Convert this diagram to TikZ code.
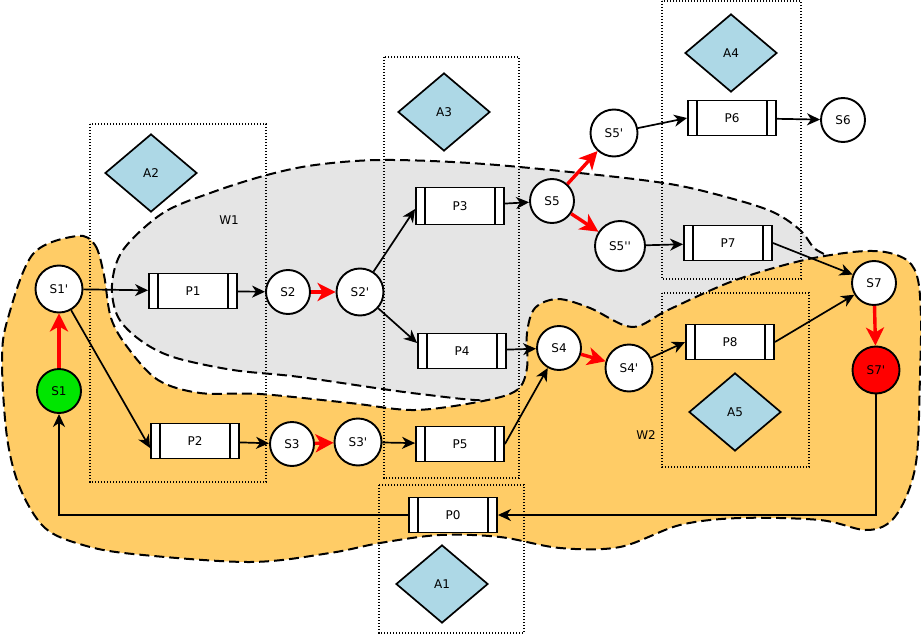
\documentclass[tikz,border=0pt]{standalone}
\usepackage{fontspec}
\setmainfont{DejaVu Sans}[Ligatures=TeXOff]
\usetikzlibrary{shapes.geometric,arrows.meta}
\definecolor{worange}{RGB}{255,204,102}
\definecolor{wgrey}{RGB}{229,229,229}
\definecolor{actblue}{RGB}{173,216,230}
\definecolor{sgreen}{RGB}{0,230,0}
\begin{document}
\begin{tikzpicture}[x=1pt,y=-1pt,
  every node/.style={font=\fontsize{12}{14}\selectfont},
  state/.style={circle,draw,line width=1.9pt,fill=white,minimum size=44pt,inner sep=0pt},
  statep/.style={state,minimum size=47pt},
  statepp/.style={state,minimum size=50pt},
  proc/.style={rectangle,draw,line width=1.9pt,fill=white,minimum width=88pt,minimum height=35pt,inner sep=0pt,
    path picture={\draw[line width=1.8pt]
      ([xshift=9pt]path picture bounding box.north west) -- ([xshift=9pt]path picture bounding box.south west)
      ([xshift=-9pt]path picture bounding box.north east) -- ([xshift=-9pt]path picture bounding box.south east);}},
  act/.style={diamond,draw,line width=1.7pt,fill=actblue,minimum width=92pt,minimum height=78pt,inner sep=0pt},
  dbox/.style={draw,line width=1.4pt,dash pattern=on 1.4pt off 1.6pt},
  blob/.style={line width=2pt,dash pattern=on 10pt off 5pt},
  arr/.style={-{Stealth[length=13pt,width=12pt,inset=4pt]},line width=1.7pt},
  rarr/.style={-{Stealth[length=18pt,width=18pt,inset=5pt]},line width=3.4pt,draw=red},
  lab/.style={inner sep=0pt}
]
\useasboundingbox (0,0) rectangle (921,634);

% W1 grey region
\draw[blob,fill=wgrey] plot[smooth cycle,tension=0.55] coordinates {
 (112,285) (123,250) (163,213) (213,192) (267,175) (315,165) (380,160) (470,163)
 (570,172) (670,184) (737,200) (775,213) (800,230) (813,247) (835,275) (720,340)
 (580,380) (503,400) (420,394) (300,377) (233,370) (173,357) (140,340) (118,317)};

% W2 orange region
\draw[blob,fill=worange] plot[smooth cycle,tension=0.55] coordinates {
 (77,236) (95,245) (104,275) (111,318) (128,348) (158,380) (200,393) (260,394)
 (350,403) (415,410) (483,401) (517,390) (527,368) (527,333) (535,308) (558,299)
 (590,308) (632,327) (668,310) (733,281) (800,261) (853,252) (885,252) (908,261)
 (918,280) (921,320) (920,375) (917,455) (907,495) (890,522) (865,530) (820,520)
 (740,518) (680,525) (620,547) (560,548) (500,537) (440,535) (380,543) (330,553)
 (250,562) (133,554) (83,545) (45,528) (20,488) (7,437) (2,360) (8,318) (33,254)};

\node[lab] (w1) at (229,220) {W1};
\node[lab] (w2) at (646,435) {W2};

% dotted boxes
\draw[dbox] (90,124) rectangle (266,482);
\draw[dbox] (384,57) rectangle (519,478);
\draw[dbox] (662,1) rectangle (801,279);
\draw[dbox] (662,293) rectangle (809,467);
\draw[dbox] (379,485) rectangle (524,633);

% activities
\node[act] (A1) at (442,584) {A1};
\node[act] (A2) at (151,173) {A2};
\node[act] (A3) at (444,112) {A3};
\node[act] (A4) at (731,53) {A4};
\node[act] (A5) at (735,412) {A5};

% states
\node[statep] (S1p) at (59,289) {S1'};
\node[state,fill=sgreen] (S1) at (59,391) {S1};
\node[state] (S2) at (288,292) {S2};
\node[statep] (S2p) at (360,292) {S2'};
\node[state] (S3) at (292,444) {S3};
\node[statep] (S3p) at (358,442) {S3'};
\node[state] (S4) at (559,348) {S4};
\node[statep] (S4p) at (629,368) {S4'};
\node[state] (S5) at (552,201) {S5};
\node[statep] (S5p) at (614,133) {S5'};
\node[statepp] (S5pp) at (620,246) {S5''};
\node[state] (S6) at (843,120) {S6};
\node[state] (S7) at (874,283) {S7};
\node[statep,fill=red] (S7p) at (876,370) {S7'};

% processes
\node[proc] (P0) at (453,515) {P0};
\node[proc] (P1) at (193,291) {P1};
\node[proc] (P2) at (195,441) {P2};
\node[proc,minimum height=37pt] (P3) at (460,206) {P3};
\node[proc] (P4) at (462,351) {P4};
\node[proc] (P5) at (460,444) {P5};
\node[proc] (P6) at (732,118) {P6};
\node[proc] (P7) at (728,243) {P7};
\node[proc] (P8) at (730,342) {P8};

% black connectors
\draw[arr] (S1p) -- (P1);
\draw[arr] (P1) -- (S2);
\draw[arr] (S1p) -- ([yshift=-7pt]P2.west);
\draw[arr] (P2) -- (S3);
\draw[arr] (S2p) -- ([yshift=-3pt]P3.west);
\draw[arr] (S2p) -- ([yshift=8pt]P4.west);
\draw[arr] (P3) -- (S5);
\draw[arr] (P4) -- (S4);
\draw[arr] (S3p) -- (P5);
\draw[arr] (P5.east) -- (S4);
\draw[arr] (S5p) -- (P6.west);
\draw[arr] (P6) -- (S6);
\draw[arr] (S5pp) -- (P7);
\draw[arr] (P7.east) -- (S7);
\draw[arr] (S4p) -- (P8.west);
\draw[arr] (P8.east) -- (S7);
\draw[arr] (S7p) |- (P0);
\draw[arr] (P0) -| (S1);

% red connectors
\draw[rarr] (S1) -- (S1p);
\draw[rarr] (S2) -- (S2p);
\draw[rarr] (S3) -- (S3p);
\draw[rarr] (S4) -- (S4p);
\draw[rarr] (S5) -- (S5p);
\draw[rarr] (S5) -- (S5pp);
\draw[rarr] (S7) -- (S7p);
\end{tikzpicture}
\end{document}
